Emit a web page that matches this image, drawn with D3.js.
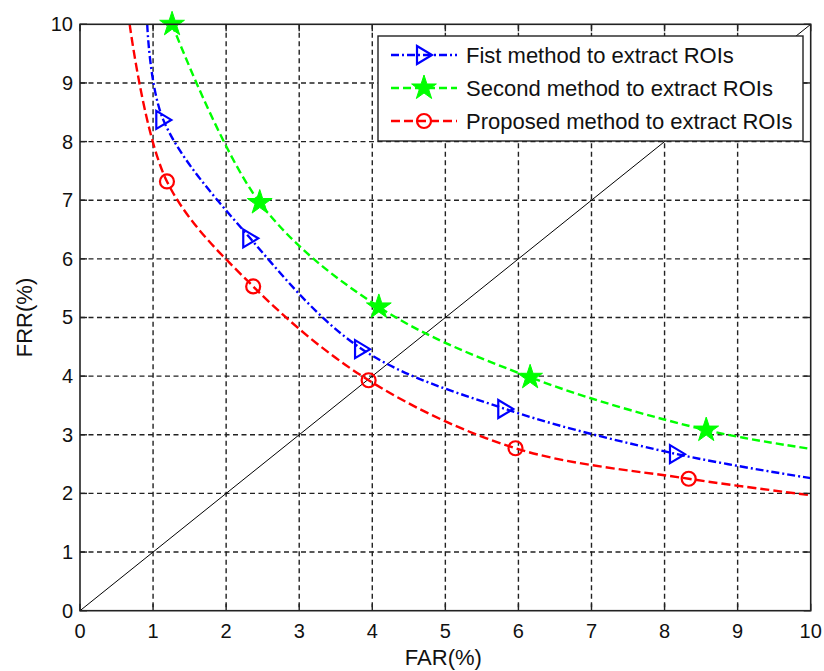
<!DOCTYPE html>
<html>
<head>
<meta charset="utf-8">
<script src="https://cdn.jsdelivr.net/npm/d3@7"></script>
<style>
  body { margin: 0; background: #fff; }
  svg { display: block; font-family: Arial, "Liberation Sans", sans-serif; }
</style>
</head>
<body>
<svg width="824" height="671"></svg>
<script>
// axis ticks
const xTicks = [0, 1, 2, 3, 4, 5, 6, 7, 8, 9, 10];
const yTicks = [0, 1, 2, 3, 4, 5, 6, 7, 8, 9, 10];

// series (FAR %, FRR %)
const farFirst = [0.92, 1.14, 2.33, 3.86, 5.82, 8.17, 10];
const frrFirst = [10, 8.37, 6.35, 4.46, 3.44, 2.67, 2.26];
const markFirst = [1, 2, 3, 4, 5];

const farSecond = [1.26, 2.46, 4.09, 6.16, 8.57, 10];
const frrSecond = [10, 6.96, 5.18, 3.98, 3.08, 2.76];
const markSecond = [0, 1, 2, 3, 4];

const farProposed = [0.68, 1.19, 2.37, 3.95, 5.96, 8.33, 10];
const frrProposed = [10, 7.32, 5.53, 3.93, 2.77, 2.25, 1.97];
const markProposed = [1, 2, 3, 4, 5];

// EER reference line
const diagFar = [0, 10];
const diagFrr = [0, 10];

const seriesNames = [
  "Fist method to extract ROIs",
  "Second method to extract ROIs",
  "Proposed method to extract ROIs",
];

const margin = { top: 24.3, right: 13.3, bottom: 60.3, left: 80 };
const width = 824 - margin.left - margin.right;
const height = 671 - margin.top - margin.bottom;

const x = d3.scaleLinear().domain([0, 10]).range([0, width]);
const y = d3.scaleLinear().domain([0, 10]).range([height, 0]);

const svg = d3.select("svg");
const g = svg.append("g").attr("transform", `translate(${margin.left},${margin.top})`);

g.append("clipPath").attr("id", "clip")
  .append("rect").attr("width", width).attr("height", height);

// dashed grid
g.append("g").selectAll("line").data(xTicks.slice(1, -1)).join("line")
  .attr("x1", d => x(d)).attr("x2", d => x(d))
  .attr("y1", 0).attr("y2", height)
  .attr("stroke", "#222").attr("stroke-width", 1.4).attr("stroke-dasharray", "5,3.5");
g.append("g").selectAll("line").data(yTicks.slice(1, -1)).join("line")
  .attr("y1", d => y(d)).attr("y2", d => y(d))
  .attr("x1", 0).attr("x2", width)
  .attr("stroke", "#222").attr("stroke-width", 1.4).attr("stroke-dasharray", "5,3.5");

// diagonal
g.append("path")
  .datum(diagFar.map((v, i) => [v, diagFrr[i]]))
  .attr("d", d3.line().x(d => x(d[0])).y(d => y(d[1])))
  .attr("fill", "none").attr("stroke", "#000").attr("stroke-width", 1);

const series = [
  { far: farFirst, frr: frrFirst, marks: markFirst, color: "#0000ff", dash: "8,3,2,3", marker: "tri" },
  { far: farSecond, frr: frrSecond, marks: markSecond, color: "#00ff00", dash: "8,4", marker: "star" },
  { far: farProposed, frr: frrProposed, marks: markProposed, color: "#ff0000", dash: "9,4", marker: "circle" },
];

const line = d3.line().x(d => x(d[0])).y(d => y(d[1])).curve(d3.curveCatmullRom.alpha(0.5));

function drawMarker(sel, type, color) {
  if (type === "tri") {
    sel.append("path").attr("d", "M-7,-9 L8,0 L-7,9 Z")
      .attr("fill", "none").attr("stroke", color).attr("stroke-width", 2.2);
  } else if (type === "star") {
    sel.append("path").attr("d", d3.symbol(d3.symbolStar, 190)())
      .attr("fill", color).attr("stroke", color).attr("stroke-width", 1);
  } else {
    sel.append("circle").attr("r", 7)
      .attr("fill", "none").attr("stroke", color).attr("stroke-width", 2.2);
  }
}

const plot = g.append("g").attr("clip-path", "url(#clip)");
series.forEach(s => {
  const pts = s.far.map((v, i) => [v, s.frr[i]]);
  plot.append("path").datum(pts)
    .attr("d", line)
    .attr("fill", "none").attr("stroke", s.color)
    .attr("stroke-width", 2.4).attr("stroke-dasharray", s.dash);
});
series.forEach(s => {
  s.marks.forEach(i => {
    const m = g.append("g").attr("transform", `translate(${x(s.far[i])},${y(s.frr[i])})`);
    drawMarker(m, s.marker, s.color);
  });
});

// box and inward ticks
g.append("rect").attr("width", width).attr("height", height)
  .attr("fill", "none").attr("stroke", "#222").attr("stroke-width", 1.6);
const tl = 7;
xTicks.forEach(t => {
  g.append("line").attr("x1", x(t)).attr("x2", x(t)).attr("y1", height).attr("y2", height - tl)
    .attr("stroke", "#222").attr("stroke-width", 1.4);
  g.append("line").attr("x1", x(t)).attr("x2", x(t)).attr("y1", 0).attr("y2", tl)
    .attr("stroke", "#222").attr("stroke-width", 1.4);
});
yTicks.forEach(t => {
  g.append("line").attr("y1", y(t)).attr("y2", y(t)).attr("x1", 0).attr("x2", tl)
    .attr("stroke", "#222").attr("stroke-width", 1.4);
  g.append("line").attr("y1", y(t)).attr("y2", y(t)).attr("x1", width).attr("x2", width - tl)
    .attr("stroke", "#222").attr("stroke-width", 1.4);
});

// tick labels
g.append("g").selectAll("text").data(xTicks).join("text")
  .attr("x", d => x(d)).attr("y", height + 27)
  .attr("text-anchor", "middle").attr("font-size", 20).attr("fill", "#111")
  .text(d => d);
g.append("g").selectAll("text").data(yTicks).join("text")
  .attr("x", -7).attr("y", d => y(d) + 7)
  .attr("text-anchor", "end").attr("font-size", 20).attr("fill", "#111")
  .text(d => d);

// axis titles
svg.append("text").attr("x", margin.left + width / 2 - 2).attr("y", 665)
  .attr("text-anchor", "middle").attr("font-size", 22).attr("fill", "#111").text("FAR(%)");
svg.append("text").attr("transform", `translate(32,${margin.top + height / 2}) rotate(-90)`)
  .attr("text-anchor", "middle").attr("font-size", 22).attr("fill", "#111").text("FRR(%)");

// legend
const lg = svg.append("g").attr("transform", "translate(378,36)");
lg.append("rect").attr("width", 425).attr("height", 105)
  .attr("fill", "#fff").attr("stroke", "#222").attr("stroke-width", 1.4);
series.forEach((s, i) => {
  const row = lg.append("g").attr("transform", `translate(0,${19 + i * 33})`);
  row.append("line").attr("x1", 13).attr("x2", 79)
    .attr("stroke", s.color).attr("stroke-width", 2.4).attr("stroke-dasharray", s.dash);
  const m = row.append("g").attr("transform", "translate(46,0)");
  drawMarker(m, s.marker, s.color);
  row.append("text").attr("x", 88).attr("y", 8)
    .attr("font-size", 22).attr("fill", "#111").text(seriesNames[i]);
});
</script>
</body>
</html>
